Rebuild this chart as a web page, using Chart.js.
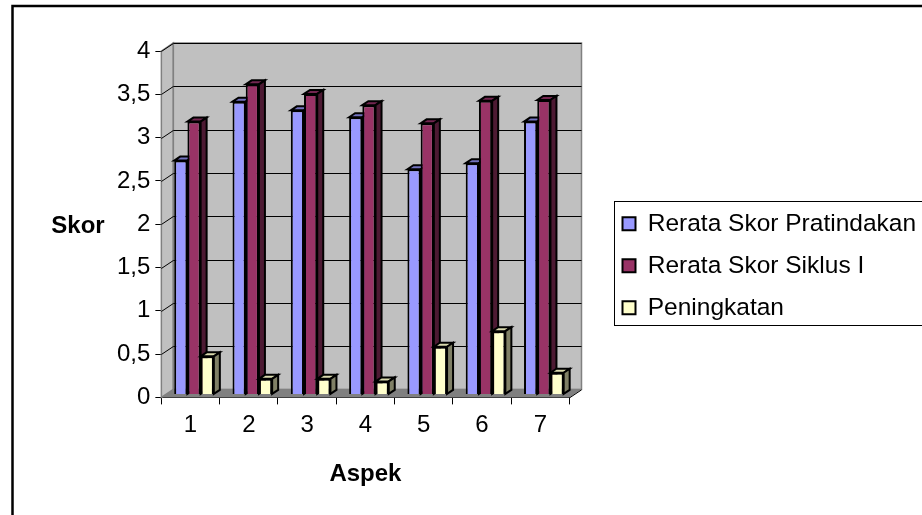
<!DOCTYPE html>
<html>
<head>
<meta charset="utf-8">
<style>
  html, body { margin: 0; padding: 0; background: #fff; }
  #wrap { position: absolute; left: 0; top: 0; width: 922px; height: 515px; }
</style>
<script src="https://cdn.jsdelivr.net/npm/chart.js@4/dist/chart.umd.min.js"></script>
</head>
<body>
<div id="wrap"><canvas id="chart"></canvas></div>
<script>
// Chart data
const categories = ['1', '2', '3', '4', '5', '6', '7'];
const pratindakan = [2.7, 3.38, 3.28, 3.2, 2.6, 2.67, 3.15];
const siklusI = [3.15, 3.58, 3.47, 3.34, 3.13, 3.39, 3.4];
const peningkatan = [0.44, 0.18, 0.18, 0.15, 0.55, 0.73, 0.25];
const seriesNames = ['Rerata Skor Pratindakan', 'Rerata Skor Siklus I', 'Peningkatan'];

// 3D look
const DEPTH_X = 12, DEPTH_Y = 8;
const BAR_SHIFT_X = 3.5, BAR_SHIFT_Y = 3;
const BAR_DX = 6, BAR_DY = 4;
const FONT = '"Liberation Sans", Arial, sans-serif';
const faceColors = [
    { top: '#7373BF', side: '#4D4D80' },
    { top: '#732650', side: '#4D1A33' },
    { top: '#D9D9AD', side: '#808066' }
];

function poly(ctx, pts, fill) {
    ctx.beginPath();
    pts.forEach((p, i) => i ? ctx.lineTo(p[0], p[1]) : ctx.moveTo(p[0], p[1]));
    ctx.closePath();
    if (fill) { ctx.fillStyle = fill; ctx.fill(); }
}

// Walls, floor and grid behind the bars, frame round the image
const wallsPlugin = {
    id: 'walls',
    afterLayout(chart) {
        // legend sits in its own box, running off the right edge like the original
        const legend = chart.legend;
        legend.left = 605;
        legend.right = 922;
        legend.top = 194;
        legend.bottom = 350;
    },
    beforeDatasetsDraw(chart) {
        const { ctx, chartArea: a, scales: { y } } = chart;
        ctx.save();
        // frame
        ctx.strokeStyle = '#000';
        ctx.lineWidth = 2.5;
        ctx.strokeRect(12.5, 6, 940, 540);
        // side wall
        poly(ctx, [[a.left, a.top], [a.left + DEPTH_X, a.top - DEPTH_Y], [a.left + DEPTH_X, a.bottom - DEPTH_Y], [a.left, a.bottom]], '#C0C0C0');
        ctx.strokeStyle = '#808080';
        ctx.lineWidth = 1.5;
        ctx.stroke();
        // back wall
        ctx.fillStyle = '#C0C0C0';
        ctx.fillRect(a.left + DEPTH_X, a.top - DEPTH_Y, a.width, a.height);
        ctx.strokeRect(a.left + DEPTH_X, a.top - DEPTH_Y, a.width, a.height);
        // floor
        poly(ctx, [[a.left, a.bottom], [a.left + DEPTH_X, a.bottom - DEPTH_Y], [a.right + DEPTH_X, a.bottom - DEPTH_Y], [a.right, a.bottom]], '#808080');
        // grid
        ctx.strokeStyle = '#000';
        ctx.lineWidth = 1;
        y.ticks.forEach(t => {
            if (t.value === 0) return;
            const py = Math.round(y.getPixelForValue(t.value)) + 0.5;
            ctx.beginPath();
            ctx.moveTo(a.left, py);
            ctx.lineTo(a.left + DEPTH_X, py - DEPTH_Y);
            ctx.lineTo(a.right + DEPTH_X, py - DEPTH_Y);
            ctx.stroke();
        });
        ctx.beginPath();
        ctx.moveTo(a.right, a.bottom + 0.5);
        ctx.lineTo(a.right + DEPTH_X, a.bottom - DEPTH_Y + 0.5);
        ctx.stroke();
        ctx.restore();
    },
    // library draws last dataset first, we need the first one at the back
    beforeDatasetDraw() {
        return false;
    },
    afterDatasetsDraw(chart) {
        const { ctx } = chart;
        chart.data.datasets.forEach((ds, i) => {
            const meta = chart.getDatasetMeta(i);
            const c = faceColors[i];
            ctx.save();
            ctx.translate(BAR_SHIFT_X, -BAR_SHIFT_Y);
            ctx.strokeStyle = '#000';
            ctx.lineWidth = 2;
            meta.data.forEach(bar => {
                const w = bar.width / 2, l = bar.x - w, r = bar.x + w, t = bar.y, b = bar.base;
                poly(ctx, [[l, t], [l + BAR_DX, t - BAR_DY], [r + BAR_DX, t - BAR_DY], [r, t]], c.top);
                ctx.stroke();
                poly(ctx, [[r, t], [r + BAR_DX, t - BAR_DY], [r + BAR_DX, b - BAR_DY], [r, b]], c.side);
                ctx.stroke();
            });
            meta.controller.draw();
            ctx.restore();
        });
    },
    afterDraw(chart) {
        const { ctx, chartArea: a } = chart;
        ctx.save();
        // box round the legend
        ctx.strokeStyle = '#000';
        ctx.lineWidth = 1;
        ctx.strokeRect(614.5, 201.5, 320, 124);
        // y title stays horizontal here, the library can only rotate it
        ctx.fillStyle = '#000';
        ctx.font = 'bold 24px ' + FONT;
        ctx.textAlign = 'center';
        ctx.textBaseline = 'middle';
        ctx.fillText('Skor', 78, (a.top + a.bottom) / 2 + 2);
        ctx.restore();
    }
};

Chart.defaults.font.family = FONT;
Chart.defaults.color = '#000';

new Chart(document.getElementById('chart'), {
    type: 'bar',
    data: {
        labels: categories,
        datasets: [
            { label: seriesNames[0], data: pratindakan, backgroundColor: '#9999FF' },
            { label: seriesNames[1], data: siklusI, backgroundColor: '#993366' },
            { label: seriesNames[2], data: peningkatan, backgroundColor: '#FFFFCC' }
        ].map(d => ({ ...d, borderColor: '#000', borderWidth: 2, categoryPercentage: 0.68, barPercentage: 1, clip: false }))
    },
    options: {
        responsive: true,
        maintainAspectRatio: false,
        animation: false,
        layout: { padding: { left: 112, top: 51, right: 200, bottom: 26 } },
        plugins: {
            tooltip: { enabled: false },
            legend: {
                position: 'right',
                align: 'start',
                labels: {
                    font: { size: 24.5 },
                    color: '#000',
                    boxWidth: 13,
                    boxHeight: 13,
                    padding: 17.5
                }
            }
        },
        scales: {
            x: {
                grid: { drawOnChartArea: false, color: '#000', tickLength: 7, offset: true },
                border: { color: '#000', width: 1 },
                ticks: { font: { size: 24 }, color: '#000', padding: 7 },
                title: { display: true, text: 'Aspek', font: { size: 24, weight: 'bold' }, color: '#000', padding: { top: 13, bottom: 0 } }
            },
            y: {
                min: 0,
                max: 4,
                grid: { drawOnChartArea: false, color: '#000', tickLength: 6 },
                border: { color: '#000', width: 1 },
                ticks: {
                    stepSize: 0.5,
                    font: { size: 24 },
                    color: '#000',
                    padding: 5,
                    callback: v => String(v).replace('.', ',')
                }
            }
        }
    },
    plugins: [wallsPlugin]
});
</script>
</body>
</html>
